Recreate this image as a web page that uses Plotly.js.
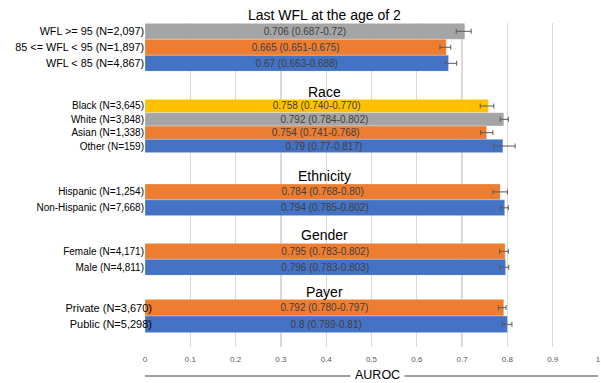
<!DOCTYPE html>
<html>
<head>
<meta charset="utf-8">
<script src="https://cdn.plot.ly/plotly-3.0.1.min.js"></script>
<style>html,body{margin:0;padding:0;background:#fff;}#chart{width:601px;height:383px;}</style>
</head>
<body>
<div id="chart"></div>
<script>
// ---- Data (top-to-bottom within each group) ----
var groupTitles = ["Last WFL at the age of 2", "Race", "Ethnicity", "Gender", "Payer"];

var wflLabels = ["WFL >= 95 (N=2,097)", "85 <= WFL < 95 (N=1,897)", "WFL < 85 (N=4,867)"];
var wflAuc    = ["0.706", "0.665", "0.67"];
var wflLo     = ["0.687", "0.651", "0.663"];
var wflHi     = ["0.72",  "0.675", "0.688"];

var raceLabels = ["Black (N=3,645)", "White (N=3,848)", "Asian (N=1,338)", "Other (N=159)"];
var raceAuc    = ["0.758", "0.792", "0.754", "0.79"];
var raceLo     = ["0.740", "0.784", "0.741", "0.77"];
var raceHi     = ["0.770", "0.802", "0.768", "0.817"];

var ethLabels = ["Hispanic (N=1,254)", "Non-Hispanic (N=7,668)"];
var ethAuc    = ["0.784", "0.794"];
var ethLo     = ["0.768", "0.785"];
var ethHi     = ["0.80",  "0.802"];

var genLabels = ["Female (N=4,171)", "Male (N=4,811)"];
var genAuc    = ["0.795", "0.796"];
var genLo     = ["0.783", "0.783"];
var genHi     = ["0.802", "0.803"];

var payLabels = ["Private (N=3,670)", "Public (N=5,298)"];
var payAuc    = ["0.792", "0.8"];
var payLo     = ["0.780", "0.789"];
var payHi     = ["0.797", "0.81"];

var xTickVals = [0, 0.1, 0.2, 0.3, 0.4, 0.5, 0.6, 0.7, 0.8, 0.9, 1];
var xTitle = "AUROC";

// ---- Styles ----
var BLUE = "#4472C4", ORANGE = "#ED7D31", GRAY = "#A5A5A5", YELLOW = "#FFC000";
var groupColors = [
  [GRAY, ORANGE, BLUE],
  [YELLOW, GRAY, ORANGE, BLUE],
  [ORANGE, BLUE],
  [ORANGE, BLUE],
  [ORANGE, BLUE]
];
var H = 383;
function py(p) { return (H - p) / H; }

var groups = [
  {labels: wflLabels, auc: wflAuc, lo: wflLo, hi: wflHi, top: 23.3, bot: 71.3, fs: 10.8, standoff: 0, title: 15},
  {labels: raceLabels, auc: raceAuc, lo: raceLo, hi: raceHi, top: 99.3, bot: 152.7, fs: 10, standoff: 0, title: 92},
  {labels: ethLabels, auc: ethAuc, lo: ethLo, hi: ethHi, top: 184, bot: 215.7, fs: 10, standoff: 0, title: 176},
  {labels: genLabels, auc: genAuc, lo: genLo, hi: genHi, top: 243.3, bot: 275.3, fs: 10, standoff: 0, title: 235},
  {labels: payLabels, auc: payAuc, lo: payLo, hi: payHi, top: 299.3, bot: 332.7, fs: 11, standoff: -8, title: 292}
];

var FONT = "Liberation Sans, Arial, sans-serif";
var traces = [{x: [], y: [], type: "scatter", xaxis: "x", yaxis: "y", showlegend: false, hoverinfo: "skip"}];

var layout = {
  width: 601, height: 383,
  margin: {l: 145, r: 3, t: 0, b: 0},
  paper_bgcolor: "#fff", plot_bgcolor: "rgba(0,0,0,0)",
  showlegend: false,
  bargap: 0,
  font: {family: FONT, color: "#000"},
  xaxis: {
    range: [0, 1], tickvals: xTickVals, ticktext: xTickVals.map(String),
    showgrid: true, gridcolor: "#D9D9D9", gridwidth: 1.3, zeroline: false,
    showline: false, ticks: "outside", ticklen: 4, tickcolor: "rgba(0,0,0,0)",
    tickfont: {size: 8, color: "#595959"},
    anchor: "y", fixedrange: true
  },
  yaxis: {domain: [py(347), py(28)], visible: false, anchor: "x", range: [0, 1]},
  annotations: [],
  shapes: [{
    type: "line", xref: "paper", yref: "paper", x0: 0, x1: 1,
    y0: py(376), y1: py(376), line: {color: "#7F7F7F", width: 1.5}, layer: "above"
  }]
};

groups.forEach(function (g, i) {
  var ya = "y" + (i + 2);
  var val = g.auc.map(Number);
  var lo = g.lo.map(Number), hi = g.hi.map(Number);
  traces.push({
    type: "bar", orientation: "h",
    x: val, y: g.labels,
    xaxis: "x", yaxis: ya,
    marker: {color: groupColors[i], line: {color: "rgba(255,255,255,0.35)", width: 0.8}},
    text: g.auc.map(function (a, k) { return a + " (" + g.lo[k] + "-" + g.hi[k] + ")"; }),
    textposition: "inside", insidetextanchor: "middle", textangle: 0,
    constraintext: "none",
    textfont: {size: 10, color: "#404040", family: FONT},
    error_x: {
      type: "data", symmetric: false,
      array: hi.map(function (h, k) { return h - val[k]; }),
      arrayminus: lo.map(function (l, k) { return val[k] - l; }),
      color: "#595959", thickness: 1, width: 2.5
    },
    hoverinfo: "skip", showlegend: false
  });
  layout["yaxis" + (i + 2)] = {
    domain: [py(g.bot), py(g.top)],
    anchor: "x", type: "category",
    categoryorder: "array", categoryarray: g.labels,
    autorange: "reversed",
    showgrid: false, zeroline: false, showline: false, ticks: "",
    ticklabelstandoff: g.standoff,
    tickfont: {size: g.fs, color: "#000", family: FONT},
    fixedrange: true
  };
  layout.annotations.push({
    text: groupTitles[i], xref: "paper", yref: "paper",
    x: 0.396, y: py(g.title), xanchor: "center", yanchor: "middle",
    showarrow: false, font: {size: 14, color: "#000", family: FONT}
  });
});

layout.annotations.push({
  text: xTitle, xref: "paper", yref: "paper",
  x: 0.514, y: py(375), xanchor: "center", yanchor: "middle",
  showarrow: false, bgcolor: "#fff", borderpad: 4,
  font: {size: 12.5, color: "#000", family: FONT}
});

Plotly.newPlot("chart", traces, layout, {staticPlot: true, displayModeBar: false});
</script>
</body>
</html>
